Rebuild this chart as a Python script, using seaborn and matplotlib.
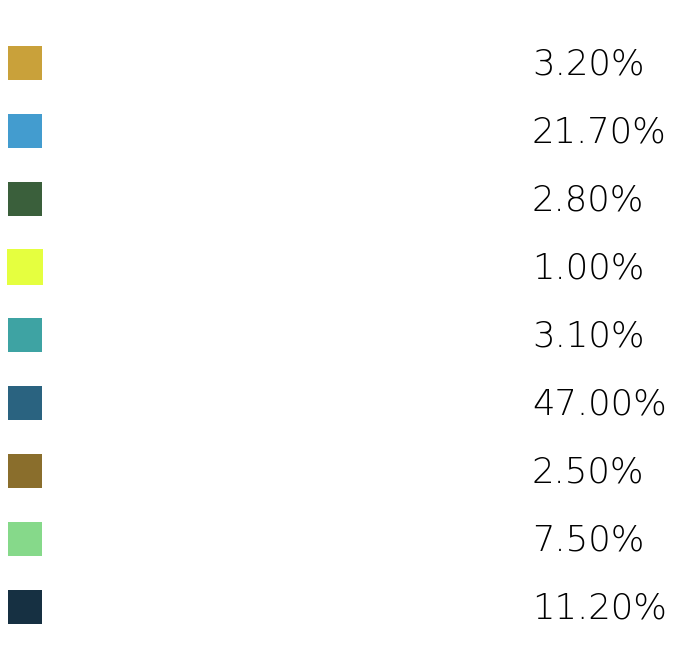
import pandas as pd
import matplotlib
matplotlib.use("Agg")
import matplotlib.pyplot as plt
import seaborn as sns

# shares per row (the row labels in the reference are unreadable glyph fragments)
shares = [3.2, 21.7, 2.8, 1.0, 3.1, 47.0, 2.5, 7.5, 11.2]
colors = ["#C9A13A", "#439CCF", "#3A5F3B", "#E5FF3F", "#3EA3A3",
          "#2A6380", "#8A6E2C", "#86D98A", "#163042"]

df = pd.DataFrame({
    "row": range(len(shares)),
    "share": shares,
})
df["pos"] = 0

sns.set_theme(style="white")
plt.rcParams['font.family'] = ['DejaVu Sans']

fig = plt.figure(figsize=(6.75, 6.49), dpi=100)
ax = fig.add_axes([0, 0, 1, 1])

# square swatches, one per row (the yellow one is drawn a little larger)
sizes = [700 if i == 3 else 600 for i in df["row"]]
sns.scatterplot(data=df, x="pos", y="row", hue="row", palette=colors,
                marker="s", s=sizes, linewidth=0, legend=False, ax=ax)

for _, r in df.iterrows():
    ax.text(532 / 675, r["row"] - 0.035, f"{r['share']:.2f}%",
            transform=ax.get_yaxis_transform(), ha="left", va="center_baseline",
            fontsize=25.5, color="#000000", fontweight="light")

# pixel layout: swatch centre x=25 px, row 0 at y=63 px, 68 px per row
px_per_row = 68
ax.set_xlim(-25 / 675, 650 / 675)
ax.set_ylim(8 + (649 - 607) / px_per_row, -63 / px_per_row)
ax.set_axis_off()

fig.savefig("out.png", dpi=100)
